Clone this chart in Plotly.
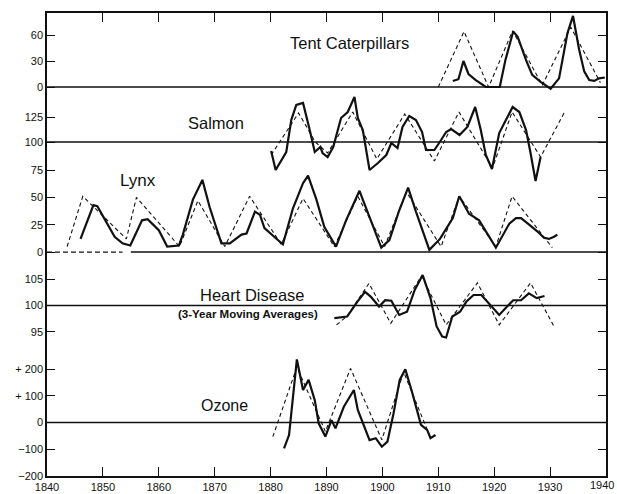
import plotly.graph_objects as go

# ---------------- data ----------------
tc_solid_years = [1912.6, 1913.6, 1914.5, 1915.4, 1916.7, 1917.6, 1918.5, 1921, 1922, 1923.4, 1924.2,
                  1925.7, 1926.8, 1928.3, 1930.1, 1931.6, 1933.1, 1934.1, 1935.2, 1936.1, 1937,
                  1937.9, 1938.75, 1939.8]
tc_solid_vals = [7, 9, 30, 15, 8, 3.5, 0, 0, 31, 64, 58, 31, 14, 6, -2, 10, 62, 82, 43, 18, 8, 7, 10, 11]
tc_dash_years = [1910, 1914.6, 1919, 1923.3, 1928.6, 1933.7, 1939]
tc_dash_vals = [0, 64, 0, 65, 2, 69, 5]

salmon_solid_years = [1880.1, 1880.9, 1882.8, 1883.7, 1884.6, 1885.8, 1887, 1887.9, 1888.9, 1889.3, 1890.2,
                      1891.2, 1892.6, 1893.8, 1895, 1895.6, 1896.5, 1897.7, 1899.2, 1900.7, 1901.6,
                      1902.7, 1903.6, 1904.8, 1906, 1907.1, 1907.8, 1909.3, 1910.5, 1911.4, 1912.3,
                      1913.8, 1915.2, 1916.6, 1917.6, 1918.5, 1919.6, 1920.3, 1920.9, 1922.1, 1923.3,
                      1924.5, 1925.7, 1926.5, 1927.4, 1928.3]
salmon_solid_vals = [91, 72, 90, 122, 137, 139, 112, 90, 95, 89, 85, 95, 124, 130, 145, 124, 112, 72, 79,
                     87, 99, 94, 115, 126, 122, 110, 92, 92, 102, 110, 113, 107, 115, 135, 112, 87, 73,
                     94, 109, 122, 135, 130, 112, 89, 61, 85]
salmon_dash_years = [1880.1, 1885, 1888, 1890.2, 1894.7, 1899, 1904, 1909.3, 1913.7, 1919.7, 1923.2,
                     1928.3, 1932.5]
salmon_dash_vals = [87, 129, 100, 89, 130, 83, 128, 81, 130, 74, 130, 85, 129]

lynx_solid_years = [1846, 1848.3, 1849, 1850.7, 1852.1, 1853.5, 1854.9, 1857, 1858, 1860, 1861.5, 1863.6,
                    1864.3, 1866.1, 1867.8, 1869.1, 1871.2, 1872.7, 1874.8, 1875.7, 1877.2, 1878.1,
                    1878.9, 1881.3, 1882.2, 1884, 1885.8, 1886.7, 1888.2, 1889.6, 1891.7, 1893.5,
                    1895.9, 1897.7, 1899.8, 1901.25, 1903, 1904.6, 1906, 1908.4, 1910.3, 1912.6,
                    1913.75, 1915.5, 1917.3, 1920.3, 1922.7, 1923.9, 1924.8, 1926.25, 1927.7, 1928.9,
                    1929.8, 1930.7, 1931.3]
lynx_solid_vals = [12, 43, 42, 26, 14, 8, 6, 29, 30, 20, 5, 6, 16, 48, 66, 41, 8, 8, 16, 17, 37, 34, 22,
                   11, 7, 40, 63, 70, 48, 23, 5, 29, 56, 32, 4, 11, 38, 59, 37, 2, 12, 31, 51, 35, 29,
                   4, 26, 31, 31, 25, 19, 13, 12, 14, 16]
lynx_dash_years = [1843.6, 1846.4, 1854.2, 1856, 1863.7, 1867, 1871.8, 1876.25, 1881.9, 1885.8, 1891.4,
                   1895.6, 1900.4, 1904.3, 1910.5, 1913.75, 1920.3, 1923.2, 1930.4]
lynx_dash_vals = [5, 51, 12, 50, 5, 47, 5, 51, 7, 49, 5, 51, 5, 55, 5, 51, 5, 51, 4]

heart_solid_years = [1891.4, 1893.7, 1895.5, 1896.9, 1897.9, 1899.4, 1900.5, 1901.6, 1903, 1904.4, 1905.8,
                     1907.2, 1908.6, 1909.7, 1910.7, 1911.4, 1912.5, 1913.9, 1915, 1916.3, 1917.7,
                     1919.5, 1920.9, 1922.3, 1923.4, 1924.8, 1926.2, 1927.6, 1929]
heart_solid_vals = [97.6, 97.9, 100.7, 102.6, 101.7, 99.8, 101, 100.9, 98.2, 98.8, 103, 105.8, 101.4, 96,
                    94.1, 93.9, 97.9, 98.8, 100.7, 102, 102, 99.8, 98.2, 99.8, 101, 101, 102.3, 101.4,
                    101.8]
heart_dash_years = [1891.8, 1893.7, 1897.6, 1901.5, 1907, 1911.4, 1917, 1920.9, 1926.5, 1930.7]
heart_dash_vals = [96.3, 98, 104.2, 96.6, 105.6, 96.3, 104.3, 96.3, 104.3, 96]

ozone_solid_years = [1882.4, 1883.3, 1884.7, 1885.8, 1886.8, 1887.9, 1888.6, 1889.8, 1890.9, 1891.6, 1893.1,
                     1894.9, 1895.6, 1897.7, 1898.8, 1899.9, 1900.9, 1902, 1903.1, 1904.1, 1905.2,
                     1906.2, 1906.9, 1908, 1908.6, 1909.5]
ozone_solid_vals = [-97, -47, 237, 122, 160, 84, -3, -53, 9, -22, 59, 122, 47, -66, -59, -91, -72, 35, 160,
                    200, 122, 47, -9, -28, -59, -47]
ozone_dash_years = [1880.4, 1884.7, 1889.8, 1894.3, 1899.9, 1903.8, 1908.6]
ozone_dash_vals = [-53, 208, -34, 203, -65, 190, -57]

x_ticks = list(range(1840, 1941, 10))
x_ticktext = [str(v) for v in x_ticks[:-1]] + [""]   # last label drawn as annotation (edge of page)
tc_ticks = [0, 30, 60]
salmon_ticks = [100, 125]
lynx_ticks = [0, 25, 50, 75]
heart_ticks = [95, 100, 105]
ozone_ticks = [-200, -100, 0, 100, 200]
ozone_ticktext = ["\u2212200", "\u2212100", "0", "+ 100", "+ 200"]

# ---------------- figure ----------------
INK = "#111111"
FONT = "Liberation Sans, Arial, sans-serif"
fig = go.Figure()


def add(x, y, axis, dashed):
    fig.add_trace(go.Scatter(
        x=x, y=y, yaxis=axis, mode="lines", showlegend=False, hoverinfo="skip",
        line=dict(color=INK, width=1.1 if dashed else 2.2, dash="4px,3px" if dashed else "solid")))


add(tc_dash_years, tc_dash_vals, "y", True)
add(tc_solid_years, tc_solid_vals, "y", False)
add(salmon_dash_years, salmon_dash_vals, "y2", True)
add(salmon_solid_years, salmon_solid_vals, "y2", False)
add(lynx_dash_years, lynx_dash_vals, "y3", True)
add(lynx_solid_years, lynx_solid_vals, "y3", False)
add(heart_dash_years, heart_dash_vals, "y4", True)
add(heart_solid_years, heart_solid_vals, "y4", False)
add(ozone_dash_years, ozone_dash_vals, "y5", True)
add(ozone_solid_years, ozone_solid_vals, "y5", False)

tick_font = dict(family=FONT, size=11, color=INK)


def yax(rng, tickvals, ticktext=None, overlay=True):
    d = dict(domain=[0, 1], range=rng, tickvals=tickvals, ticks="inside", ticklen=8,
             tickwidth=1.3, tickcolor=INK, showline=True, linecolor=INK, linewidth=1.5,
             mirror="ticks", showgrid=False, zeroline=False, tickfont=tick_font, anchor="x",
             automargin=False)
    if ticktext is not None:
        d["ticktext"] = ticktext
    if overlay:
        d["overlaying"] = "y"
    return d


fig.update_layout(
    template="none",
    width=617, height=494,
    margin=dict(l=47, r=11, t=13, b=18, autoexpand=False),
    paper_bgcolor="white", plot_bgcolor="white",
    xaxis=dict(range=[1840, 1940], tickvals=x_ticks, ticktext=x_ticktext, ticks="inside", ticklen=9,
               tickwidth=1.3, tickcolor=INK, showline=True, linecolor=INK, linewidth=1.5,
               mirror="ticks", showgrid=False, zeroline=False, tickfont=tick_font,
               automargin=False),
    yaxis=yax([-448.8, 85.4], tc_ticks, overlay=False),
    yaxis2=yax([-234, 229], salmon_ticks),
    yaxis3=yax([-204.9, 218.7], lynx_ticks),
    yaxis4=yax([67.52, 155.71], heart_ticks),
    yaxis5=yax([-200.9, 1537.7], ozone_ticks, ozone_ticktext),
)

# reference lines of each series
for yref, yv in [("y", 0), ("y2", 100), ("y4", 100), ("y5", 0)]:
    fig.add_shape(type="line", xref="paper", x0=0, x1=1, yref=yref, y0=yv, y1=yv,
                  line=dict(color=INK, width=1.5))
# lynx zero line: dashed at the far left, solid afterwards
fig.add_shape(type="line", xref="x", x0=1840, x1=1853.5, yref="y3", y0=0, y1=0,
              line=dict(color=INK, width=1.2, dash="5px,3px"))
fig.add_shape(type="line", xref="x", x0=1855, x1=1940, yref="y3", y0=0, y1=0,
              line=dict(color=INK, width=1.5))

labels = [
    ("Tent Caterpillars", 1894.2, 50.8, "y", 16.5),
    ("Salmon", 1870.2, 119, "y2", 16.5),
    ("Lynx", 1856.3, 65.9, "y3", 17),
    ("Heart Disease", 1876.7, 102, "y4", 16.5),
    ("<b>(3-Year Moving Averages)</b>", 1876, 98.4, "y4", 11.5),
    ("Ozone", 1871.7, 65.7, "y5", 16),
]
for text, x, y, yref, size in labels:
    fig.add_annotation(text=text, x=x, y=y, xref="x", yref=yref, showarrow=False,
                       font=dict(family=FONT, size=size, color=INK))

# last x tick label, kept inside the page
fig.add_annotation(text="1940", xref="paper", x=1, xanchor="right", xshift=10,
                   yref="paper", y=0, yanchor="top", yshift=-1, showarrow=False,
                   font=tick_font)

fig.write_html("out.html", config={"displayModeBar": False},
               post_script="document.body.style.margin='0';document.body.style.overflow='hidden';")
